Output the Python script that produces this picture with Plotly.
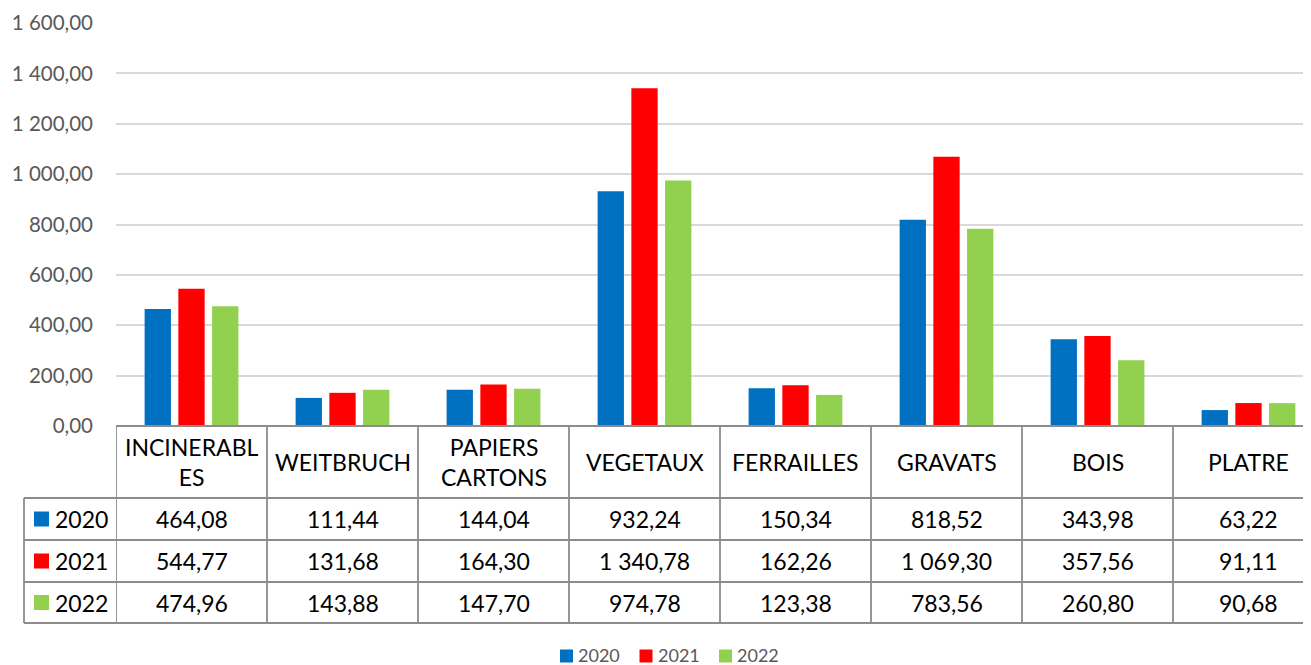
import plotly.graph_objects as go

categories = ["INCINERABLES", "WEITBRUCH", "PAPIERS CARTONS", "VEGETAUX",
              "FERRAILLES", "GRAVATS", "BOIS", "PLATRE"]
header_labels = ["INCINERABL<br>ES", "WEITBRUCH", "PAPIERS<br>CARTONS", "VEGETAUX",
                 "FERRAILLES", "GRAVATS", "BOIS", "PLATRE"]
years = ["2020", "2021", "2022"]
values_2020 = [464.08, 111.44, 144.04, 932.24, 150.34, 818.52, 343.98, 63.22]
values_2021 = [544.77, 131.68, 164.30, 1340.78, 162.26, 1069.30, 357.56, 91.11]
values_2022 = [474.96, 143.88, 147.70, 974.78, 123.38, 783.56, 260.80, 90.68]
series = [values_2020, values_2021, values_2022]
colors = ["#0070C0", "#FF0000", "#92D050"]

FONT = "Lato"
OFF = 8                      # page body margin of the html page
W, H = 1311, 665
PLOT_L, PLOT_T, PLOT_B = 116, 23, 426   # target screen pixels
ML = PLOT_L - OFF
MT = PLOT_T - OFF
MB = H - (PLOT_B - OFF)
PH = PLOT_B - PLOT_T
PW = W - ML
CAT_W = 151.0


def py(p):  # screen pixel row -> paper y
    return (PLOT_B - p) / PH


def px(p):  # screen pixel col -> paper x
    return (p - PLOT_L) / PW


def fmt(v):
    return f"{v:,.2f}".replace(",", " ").replace(".", ",")


fig = go.Figure()
x_idx = list(range(len(categories)))
for name, vals, col in zip(years, series, colors):
    fig.add_trace(go.Bar(x=x_idx, y=vals, name=name, marker_color=col,
                         marker_line_width=0, showlegend=False))

shapes = []
annotations = []
line_col = "#8C8C8C"
lw = 1.8
TFONT = dict(family=FONT, size=23, color="#000000")
header_top, header_bot = 426, 498
row_bounds = [498, 540, 582, 623]
n = len(categories)
for yb in [header_top] + row_bounds:
    shapes.append(dict(type="line", xref="x", yref="paper", x0=-0.5, x1=n - 0.5,
                       y0=py(yb), y1=py(yb), line=dict(color=line_col, width=lw)))
for yb in row_bounds:
    shapes.append(dict(type="line", xref="paper", yref="paper", x0=px(24), x1=0,
                       y0=py(yb), y1=py(yb), line=dict(color=line_col, width=lw)))
for i in range(n + 1):
    shapes.append(dict(type="line", xref="x", yref="paper", x0=i - 0.5, x1=i - 0.5,
                       y0=py(header_top), y1=py(row_bounds[-1]),
                       line=dict(color=line_col, width=lw)))
shapes.append(dict(type="line", xref="paper", yref="paper", x0=px(24), x1=px(24),
                   y0=py(row_bounds[0]), y1=py(row_bounds[-1]),
                   line=dict(color=line_col, width=lw)))

for i, lab in enumerate(header_labels):
    annotations.append(dict(x=i, y=py((header_top + header_bot) / 2), xref="x", yref="paper",
                            text=lab, showarrow=False, xanchor="center", yanchor="middle",
                            font=TFONT))
for r, (name, vals, col) in enumerate(zip(years, series, colors)):
    yc = py((row_bounds[r] + row_bounds[r + 1]) / 2)
    for i, v in enumerate(vals):
        annotations.append(dict(x=i, y=yc, xref="x", yref="paper", text=fmt(v),
                                showarrow=False, xanchor="center", yanchor="middle",
                                font=TFONT))
    half = 7.5 / PH
    shapes.append(dict(type="rect", xref="paper", yref="paper", x0=px(34), x1=px(49),
                       y0=yc - half, y1=yc + half, fillcolor=col, line=dict(width=0)))
    annotations.append(dict(x=px(53), y=yc, xref="paper", yref="paper", text=name,
                            showarrow=False, xanchor="left", yanchor="middle",
                            font=TFONT))

# bottom legend (drawn manually to match spacing)
leg_start, leg_step, leg_y = 560, 79.5, 655
for k, (name, col) in enumerate(zip(years, colors)):
    x0 = leg_start + k * leg_step
    shapes.append(dict(type="rect", xref="paper", yref="paper", x0=px(x0), x1=px(x0 + 13),
                       y0=py(leg_y + 7.5), y1=py(leg_y - 5.5), fillcolor=col,
                       line=dict(width=0)))
    annotations.append(dict(x=px(x0 + 17), y=py(leg_y), xref="paper", yref="paper",
                            text=name, showarrow=False, xanchor="left", yanchor="middle",
                            borderpad=0,
                            font=dict(family=FONT, size=18, color="#595959")))

fig.update_layout(
    width=W, height=H,
    margin=dict(l=ML, r=0, t=MT, b=MB, autoexpand=False),
    paper_bgcolor="white", plot_bgcolor="white",
    separators=", ",
    barmode="group", bargap=0.33, bargroupgap=0.22,
    showlegend=False,
    font=dict(family=FONT, size=16, color="#595959"),
    xaxis=dict(range=[-0.5, -0.5 + PW / CAT_W], showticklabels=False, showgrid=False,
               zeroline=False, showline=False, fixedrange=True),
    yaxis=dict(range=[0, 1600], dtick=200, tickformat=",.2f", showgrid=True,
               gridcolor="#D9D9D9", gridwidth=1.5, zeroline=False, showline=False,
               ticks="", ticklabelstandoff=22,
               tickfont=dict(family=FONT, size=20.5, color="#595959")),
    shapes=shapes, annotations=annotations,
)

fig.write_html("out.html")
